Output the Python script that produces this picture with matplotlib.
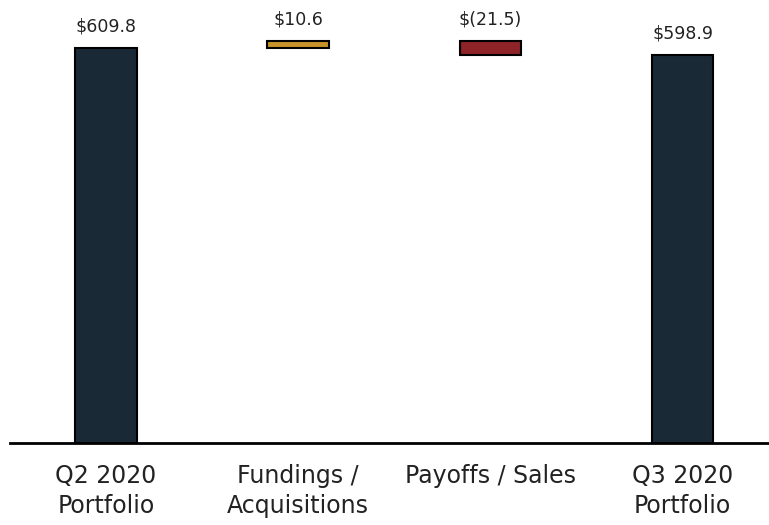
import matplotlib
matplotlib.use("Agg")
import matplotlib.pyplot as plt

categories = ["Q2 2020\nPortfolio", "Fundings /\nAcquisitions", "Payoffs / Sales", "Q3 2020\nPortfolio"]
values = [609.8, 10.6, -21.5, 598.9]
labels = ["$609.8", "$10.6", "$(21.5)", "$598.9"]
kinds = ["total", "delta", "delta", "total"]
colors = ["#1a2936", "#c8922a", "#8e2328", "#1a2936"]

plt.rcParams['font.family'] = ['DejaVu Sans']

fig = plt.figure(figsize=(7.69, 5.25), dpi=100)
ax = fig.add_axes([10/769, (525-443)/525, 759/769, 443/525])

running = 0.0
for i, (v, k, c, lab) in enumerate(zip(values, kinds, colors, labels)):
    if k == "total":
        bottom, height = 0.0, v
        running = v
    else:
        if v >= 0:
            bottom, height = running, v
        else:
            bottom, height = running + v, -v
        running += v
    ax.bar(i, height, bottom=bottom, width=0.32, color=c, edgecolor="black", linewidth=1.5, zorder=2)
    top = bottom + height
    ax.annotate(lab, (i, top), xytext=(0, 9), textcoords="offset points",
                ha="center", va="bottom", fontsize=12.5, color="#222222")

ax.set_xlim(-0.5, 3.45)
ax.set_ylim(0, 684)
ax.set_xticks(range(len(categories)))
ax.set_xticklabels(categories, fontsize=17, color="#222222", linespacing=1.3)
ax.tick_params(axis="x", length=0, pad=15)
ax.set_yticks([])
for s in ["left", "right", "top"]:
    ax.spines[s].set_visible(False)
ax.spines["bottom"].set_linewidth(2)
ax.spines["bottom"].set_color("black")

fig.savefig("out.png", dpi=100)
